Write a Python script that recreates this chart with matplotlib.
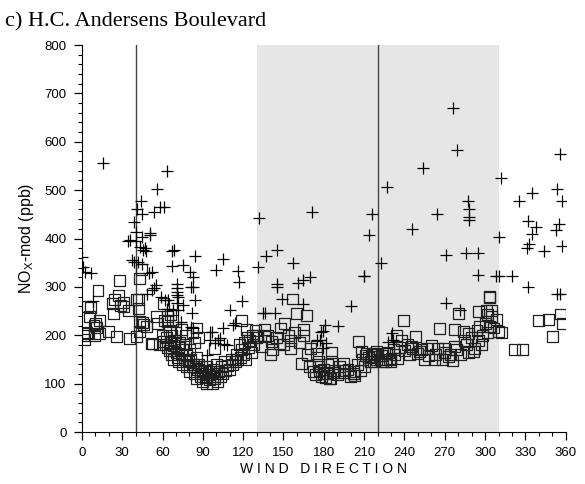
import matplotlib.pyplot as plt
from matplotlib.ticker import MultipleLocator

# modelled NOx, street (+) and background (squares); wind direction in degrees
cross_dir = [
    0, 1, 2, 7, 8, 16,
    34, 36, 37, 38.7, 38.7, 40, 40, 41, 42, 43, 44, 44.4, 44.4, 45, 45.6, 47, 48,
    48.6, 50, 50.6, 51, 51.8, 52, 53.6, 54, 55.5, 56, 58, 59, 61, 62, 63, 63.5,
    64.2, 66.7, 66.7, 68, 68.5, 70.4, 70.4, 71, 71, 71, 71.7, 71.7, 74, 75.4,
    75.4, 80.4, 81, 81, 81.6, 83, 83, 83, 84, 84, 93, 95, 95, 96.5, 99, 100,
    101.5, 102.7, 105, 105, 106, 107.6, 110, 112.6, 114, 116, 116.6, 119.5,
    130.7, 132, 135, 136, 137, 143.6, 145, 145.4, 145.4, 148.6, 157, 161, 164.7,
    164.7, 169.6, 171, 174.6, 177, 178, 179.6, 179.6, 181, 182, 190.7, 200.6,
    210, 210, 214, 215.5, 222.5, 226.7, 227.8, 230.5, 231.6, 246, 254, 264,
    270.6, 271, 276, 279, 281, 286, 287, 288, 288, 288, 295, 295, 308.5, 310,
    310.5, 312, 320, 325, 331, 332, 332, 333, 335, 335, 338, 344, 352.7, 353.7,
    353.7, 355, 355.6, 355.6, 357, 357.4,
]
cross_nox = [
    362, 342, 331, 328, 271, 556,
    394, 397, 355, 434, 352, 414, 395, 462, 352, 383, 478, 450, 348, 404, 376, 380,
    375, 285, 329, 408, 412, 331, 293, 455, 297, 304, 503, 466, 280, 466, 273,
    255, 539, 273, 375, 344, 252, 377, 297, 266, 307, 290, 283, 280, 252, 228,
    345, 262, 331, 300, 218, 245, 321, 300, 214, 364, 273, 159, 207, 190, 207,
    183, 335, 190, 194, 357, 216, 182, 180, 253, 221, 225, 333, 311, 271,
    342, 443, 247, 245, 364, 247, 376, 306, 299, 274, 350, 308, 314, 264, 321,
    455, 190, 190, 207, 209, 173, 221, 183, 219, 260, 323, 322, 407, 450, 350,
    507, 186, 204, 190, 419, 545, 450, 267, 366, 669, 584, 253, 371, 478, 462,
    438, 445, 370, 324, 322, 403, 322, 525, 322, 477, 380, 437, 299, 388, 494,
    409, 424, 375, 417, 503, 285, 429, 574, 285, 477, 385,
]

square_dir = [
    1, 2, 3.5, 4, 4, 5.5, 6.7, 9, 9.7, 10, 11, 12, 12.9, 13.4, 19.6, 23, 23.3,
    24, 25.8, 27, 28, 29, 30.7, 31, 34.5, 35.7, 40.7, 40.7, 42, 42, 42.7, 43,
    43, 44.4, 45, 46, 48, 51.8, 52.6, 55.5, 56, 58, 60.5, 61.8, 63.5, 64,
    60, 61, 62, 63, 64, 65, 65, 66, 66, 67, 67, 67.5, 68, 68, 69, 70, 70, 71,
    72, 72, 73, 74, 74, 75, 75, 76, 77, 77, 78, 78, 79, 80, 80, 81, 82, 82, 83,
    84, 84, 85, 85, 85, 86, 87, 87, 88, 88, 89, 90, 90, 91, 92, 93, 93, 94, 95,
    96, 97, 97, 98, 99, 99, 100, 100, 101, 102, 103, 104, 105, 106, 107, 108,
    110, 111, 112, 114, 115, 116, 117, 118, 118.8, 119, 120, 121, 122, 122.5,
    123, 124, 125, 126, 127, 128, 129, 130,
    131, 133.7, 136, 136, 138.5, 140, 141, 142, 145, 147, 148, 150, 151, 153.5,
    155, 155, 157, 158, 160, 162, 163.5, 164.7, 164.7, 167, 168, 169.6, 170,
    172, 174, 174.6, 174.6, 176, 176, 177, 178, 179.6, 180, 181, 183, 183, 184,
    185, 186, 186, 187, 188, 190, 192, 194.5, 195, 195.7, 198, 200, 202, 202,
    203, 205, 205.6, 207, 208, 209, 210.6, 211, 212, 213, 215, 215.5, 216.7,
    217, 218, 219, 219,
    222, 223, 224, 224, 226, 226.7, 228, 229, 230, 230, 232, 233, 234, 235, 236,
    238, 239, 240, 242, 244, 245, 246, 248.5, 250, 251.5, 253, 255, 256.5,
    257.7, 260, 262.6, 263, 265, 266, 268, 270, 270, 272.6, 274, 276, 277.5,
    277.5, 279, 280, 282, 283.7, 285, 286, 287.5, 288, 290, 291.7, 292, 294,
    295, 295, 296, 297.4, 298, 300, 301, 302, 302, 303, 303.6, 303.6, 305, 305,
    306, 308.5, 310, 312,
    321.7, 327.6, 340, 347, 350, 356.4, 357.6,
]
square_nox = [
    200, 191, 205, 259, 204, 238, 258, 221, 200, 225, 217, 293, 230, 204, 207, 265, 245,
    273, 197, 283, 314, 262, 259, 268, 252, 194, 197, 274, 274, 256, 317, 228,
    208, 335, 227, 222, 218, 183, 182, 238, 225, 180, 266, 230, 238, 228,
    200, 188, 180, 195, 175, 210, 168, 185, 242, 160, 200, 231, 178, 150, 190, 165, 205, 155,
    175, 145, 185, 160, 211, 170, 140, 150, 180, 200, 160, 135, 145, 170, 125, 150, 135, 205, 140,
    120, 185, 155, 110, 215, 130, 140, 195, 115, 125, 135, 105, 120, 128, 112, 100, 135, 118, 108,
    125, 115, 100, 130, 110, 173, 120, 140, 105, 125, 115, 135, 120, 145, 128, 138,
    130, 150, 140, 145, 160, 150, 180, 155, 231, 170, 160, 185, 150, 211,
    195, 175, 190, 165, 200, 180, 210, 195,
    200, 176, 211, 197, 200, 160, 187, 170, 195, 182, 215, 180, 225, 200,
    173, 190, 275, 205, 245, 185, 142, 211, 200, 240, 160, 135, 173,
    125, 118, 162, 176, 135, 145, 128, 115, 121, 130, 112, 121, 140, 110,
    110, 145, 165, 124, 128, 118, 135, 142, 122, 128, 130, 115, 121, 125,
    117, 140, 188, 128, 166, 150, 135, 158, 162, 155, 145, 156, 145,
    160, 162, 166, 150,
    150, 159, 158, 145, 145, 162, 165, 149, 145, 152, 170, 160, 200, 152, 175,
    190, 231, 168, 180, 160, 176, 172, 197, 162, 166, 170, 150, 173,
    159, 178, 149, 160, 172, 214, 150, 165, 173, 156, 160, 148, 211,
    176, 170, 245, 160, 207, 190, 180, 204, 165, 195, 166, 172, 210,
    249, 190, 218, 180, 200, 225, 252, 205, 242, 278, 280, 218, 252, 238,
    215, 233, 207, 206,
    171, 171, 231, 233, 197, 244, 224,
]

fig = plt.figure(figsize=(5.85, 4.84), dpi=100)
ax = fig.add_axes([0.140, 0.1074, 0.827, 0.7996])

ax.axvspan(130, 310, color='#e6e6e6', lw=0, zorder=0)
ax.axvline(40, color='#444444', lw=1.0, zorder=1)
ax.axvline(220, color='#444444', lw=1.0, zorder=1)

ax.scatter(square_dir, square_nox, marker='s', s=62, facecolors='none',
           edgecolors='#202020', linewidths=0.9, zorder=2)
ax.scatter(cross_dir, cross_nox, marker='+', s=70, color='black',
           linewidths=0.9, zorder=3)

ax.set_xlim(0, 360)
ax.set_ylim(0, 800)
ax.xaxis.set_major_locator(MultipleLocator(30))
ax.xaxis.set_minor_locator(MultipleLocator(10))
ax.yaxis.set_major_locator(MultipleLocator(100))
ax.yaxis.set_minor_locator(MultipleLocator(20))
ax.tick_params(which='major', direction='out', length=6, width=0.9,
               labelsize=9.5, pad=5)
ax.tick_params(which='minor', direction='out', length=3, width=0.8)
for lab in ax.get_xticklabels() + ax.get_yticklabels():
    lab.set_family('Liberation Sans')

ax.spines['top'].set_visible(False)
ax.spines['right'].set_visible(False)

ax.set_xlabel('W I N D   D I R E C T I O N', family='Liberation Sans',
              fontsize=10, labelpad=2)
ax.set_ylabel(r'NO$_\mathregular{X}$-mod (ppb)', family='Liberation Sans',
              fontsize=11.5, labelpad=6)

fig.text(0.008, 0.945, 'c) H.C. Andersens Boulevard', family='Liberation Serif',
         fontsize=16)

fig.savefig('out.png', dpi=100)
